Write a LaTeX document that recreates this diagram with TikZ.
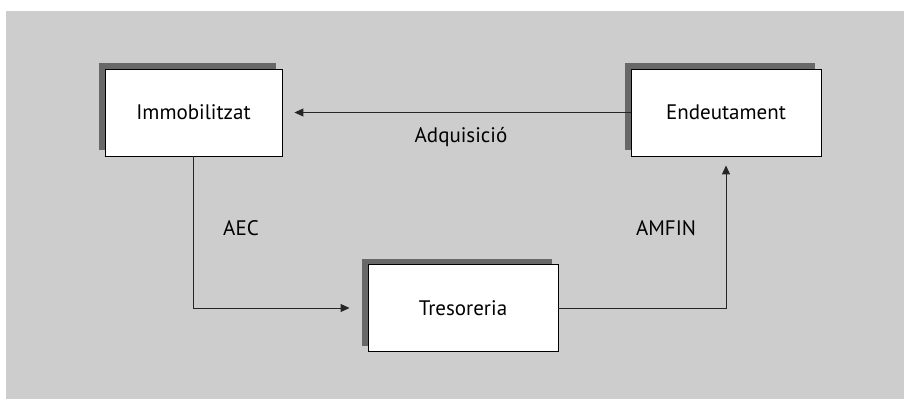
\documentclass[tikz,border=0pt]{standalone}
\usepackage{fontspec}
\setmainfont{PT Sans}
\usetikzlibrary{arrows.meta,shadows}

\definecolor{panel}{RGB}{205,205,205}
\definecolor{shade}{RGB}{104,104,104}

\tikzset{
  account/.style={draw, line width=0.9pt, fill=white, minimum height=87pt,
    font=\fontsize{21}{25}\selectfont,
    drop shadow={shadow xshift=-6pt, shadow yshift=6pt, fill=shade, opacity=1}},
  flow/.style={line width=1pt, draw=black!85, -{Triangle[length=9pt,width=8pt]}},
  tag/.style={font=\fontsize{21}{25}\selectfont}
}

\begin{document}
\begin{tikzpicture}[x=1pt,y=-1pt]
    \useasboundingbox (0,0) rectangle (904,399);
    \fill[panel] (6,11) rectangle (904,399);

    % the three accounts
    \node[account, minimum width=177pt] (immob) at (193.5,112.5) {Immobilitzat};
    \node[account, minimum width=190pt] (endeut) at (726,112.5) {Endeutament};
    \node[account, minimum width=190pt] (tres) at (463,308) {Tresoreria};

    % flows between them
    \draw[flow, shorten >=12pt] (endeut.west) -- (immob.east);
    \draw[flow, shorten >=18pt] (immob.south) |- (tres.west);
    \draw[flow, shorten >=9pt] (tres.east) -| (endeut.south);

    \node[tag] (adq) at (461,137) {Adquisició};
    \node[tag] (aec) at (241,228) {AEC};
    \node[tag] (amfin) at (666,228) {AMFIN};
  \end{tikzpicture}
\end{document}
